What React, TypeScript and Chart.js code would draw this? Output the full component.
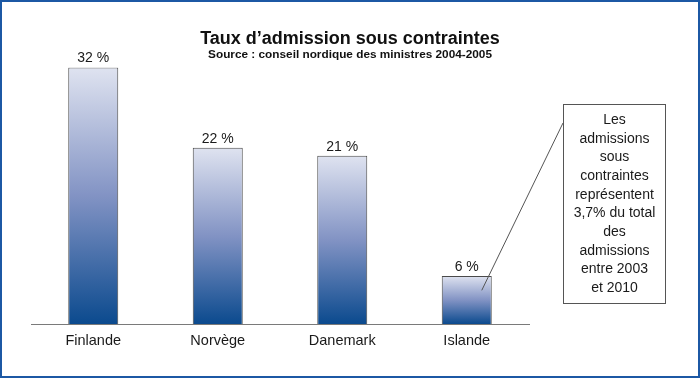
import { useEffect, useRef } from "react";
import { Chart, registerables } from "chart.js";

Chart.register(...registerables);

const TITLE = "Taux d’admission sous contraintes";
const SUBTITLE = "Source : conseil nordique des ministres 2004-2005";
const CATEGORIES = ["Finlande", "Norvège", "Danemark", "Islande"];
const VALUES = [32, 22, 21, 6];
const VALUE_SUFFIX = " %";
const Y_MIN = 0;
const Y_MAX = 32;
const NOTE_LINES = [
  "Les",
  "admissions",
  "sous",
  "contraintes",
  "représentent",
  "3,7% du total",
  "des",
  "admissions",
  "entre 2003",
  "et 2010",
];
const NOTE_TARGET_INDEX = 3;
const NOTE_TARGET_VALUE = 4.2;

const FONT = '"Liberation Sans", Arial, Helvetica, sans-serif';
const TEXT = "#1a1a1a";

const barGradient = (c: any) => {
  const chart = c.chart;
  if (!chart.chartArea || c.type !== "data") return "#8596c6";
  const y = chart.scales.y;
  const top = y.getPixelForValue(c.raw);
  const bottom = y.getPixelForValue(0);
  const g = chart.ctx.createLinearGradient(0, top, 0, bottom);
  g.addColorStop(0, "#dfe3f0");
  g.addColorStop(0.5, "#8293c4");
  g.addColorStop(1, "#0b4a8e");
  return g;
};

const backgroundPlugin = {
  id: "bgWhite",
  beforeDraw(chart: any) {
    const ctx = chart.ctx;
    ctx.save();
    ctx.fillStyle = "#ffffff";
    ctx.fillRect(0, 0, chart.width, chart.height);
    ctx.restore();
  },
};

const valueLabelPlugin = {
  id: "valueLabels",
  afterDatasetsDraw(chart: any) {
    const ctx = chart.ctx;
    const meta = chart.getDatasetMeta(0);
    ctx.save();
    ctx.font = `14px ${FONT}`;
    ctx.fillStyle = TEXT;
    ctx.textAlign = "center";
    ctx.textBaseline = "middle";
    meta.data.forEach((bar: any, i: number) => {
      ctx.fillText(`${VALUES[i]}${VALUE_SUFFIX}`, bar.x, bar.y - 9);
    });
    ctx.restore();
  },
};

const notePlugin = {
  id: "note",
  afterDraw(chart: any) {
    const ctx = chart.ctx;
    const area = chart.chartArea;
    const boxX = area.right + 34;
    const boxY = 104;
    const boxW = 102;
    const boxH = 199;
    const lineH = 18.7;
    const bar = chart.getDatasetMeta(0).data[NOTE_TARGET_INDEX];
    const tx = bar.x + 15;
    const ty = chart.scales.y.getPixelForValue(NOTE_TARGET_VALUE);
    ctx.save();
    ctx.strokeStyle = "#555555";
    ctx.lineWidth = 1;
    ctx.beginPath();
    ctx.moveTo(boxX, boxY + 19);
    ctx.lineTo(tx, ty);
    ctx.stroke();
    ctx.fillStyle = "#ffffff";
    ctx.fillRect(boxX + 0.5, boxY + 0.5, boxW, boxH);
    ctx.strokeRect(boxX + 0.5, boxY + 0.5, boxW, boxH);
    ctx.font = `14px ${FONT}`;
    ctx.fillStyle = TEXT;
    ctx.textAlign = "center";
    ctx.textBaseline = "middle";
    NOTE_LINES.forEach((t, i) => {
      ctx.fillText(t, boxX + boxW / 2 + 0.5, boxY + 16 + i * lineH);
    });
    ctx.restore();
  },
};

const framePlugin = {
  id: "frame",
  afterDraw(chart: any) {
    const ctx = chart.ctx;
    ctx.save();
    ctx.strokeStyle = "#1c58a4";
    ctx.lineWidth = 2;
    ctx.strokeRect(1, 1, chart.width - 2, chart.height - 2);
    ctx.restore();
  },
};

export default function App() {
  const ref = useRef<HTMLCanvasElement>(null);

  useEffect(() => {
    const canvas = ref.current;
    if (!canvas) return;
    const chart = new Chart(canvas, {
      type: "bar",
      data: {
        labels: CATEGORIES,
        datasets: [
          {
            data: VALUES,
            backgroundColor: barGradient,
            borderColor: "#4a4a4a",
            borderWidth: 1,
            barPercentage: 0.4016,
            categoryPercentage: 1,
          },
        ],
      },
      options: {
        responsive: false,
        animation: false,
        devicePixelRatio: 1,
        layout: { padding: { top: 0, left: 0, right: 0, bottom: 20.6 } },
        plugins: {
          legend: { display: false },
          tooltip: { enabled: false },
          title: {
            display: true,
            text: TITLE,
            color: "#111111",
            font: { family: FONT, size: 18, weight: "bold", lineHeight: 1 },
            padding: { top: 30, bottom: 0 },
          },
          subtitle: {
            display: true,
            text: SUBTITLE,
            color: "#111111",
            font: { family: FONT, size: 11.8, weight: "bold", lineHeight: 1 },
            padding: { top: 0.5, bottom: 7.2 },
          },
        },
        scales: {
          x: {
            grid: { display: false, drawTicks: false },
            border: { display: true, color: "#7a7a7a", width: 1 },
            ticks: {
              color: TEXT,
              font: { family: FONT, size: 14.5, lineHeight: 1.2 },
              padding: 8,
              maxRotation: 0,
            },
          },
          y: {
            min: Y_MIN,
            max: Y_MAX,
            display: true,
            grid: { display: false, drawTicks: false },
            border: { display: false },
            ticks: { display: false },
            afterFit: (s: any) => {
              s.width = 31;
            },
          },
          yRight: {
            type: "linear",
            position: "right",
            display: true,
            grid: { display: false, drawTicks: false },
            border: { display: false },
            ticks: { display: false },
            afterFit: (s: any) => {
              s.width = 171;
            },
          },
        },
      } as any,
      plugins: [backgroundPlugin, valueLabelPlugin, notePlugin, framePlugin],
    });
    return () => chart.destroy();
  }, []);

  return (
    <div style={{ position: "absolute", left: 0, top: 0, width: 700, height: 378 }}>
      <canvas ref={ref} width={700} height={378} style={{ display: "block", width: 700, height: 378 }} />
    </div>
  );
}
